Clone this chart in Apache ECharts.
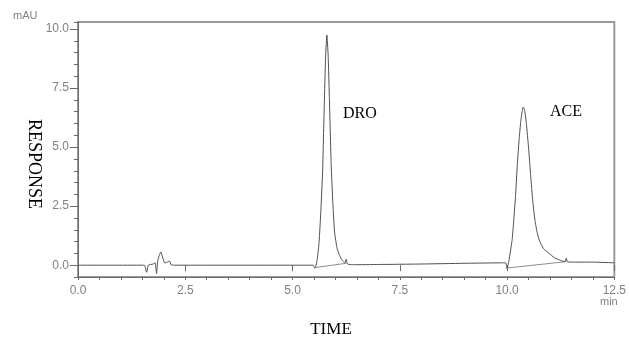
<!DOCTYPE html>
<html>
<head>
<meta charset="utf-8">
<script src="https://cdn.jsdelivr.net/npm/echarts@6/dist/echarts.min.js"></script>
<style>html,body{margin:0;padding:0;background:#fff}#c{width:629px;height:343px}</style>
</head>
<body>
<div id="c"></div>
<script>
// Chromatogram (time in min, response in mAU)
var time = [0, 0.8, 1.5, 1.55, 1.6, 1.64, 1.75, 1.8, 1.83, 1.86, 1.9, 1.93, 1.97, 2.02, 2.08, 2.13, 2.17, 2.25, 3.0, 4.0, 5.0,
  5.48, 5.52, 5.55, 5.58, 5.62, 5.66, 5.7, 5.74, 5.77, 5.8, 5.83, 5.86, 5.9, 5.94, 5.98, 6.04, 6.1, 6.16, 6.22, 6.25, 6.28, 6.4,
  7.0, 8.0, 9.0, 9.9, 9.97, 10.0, 10.04, 10.08, 10.12, 10.16, 10.2, 10.24, 10.28, 10.32, 10.36, 10.38, 10.41, 10.45, 10.5,
  10.55, 10.6, 10.65, 10.7, 10.75, 10.85, 10.98, 11.1, 11.25, 11.35, 11.38, 11.41, 11.6, 12.0, 12.5];
var response = [0.0, 0.0, 0.0, 0.0, -0.3, 0.0, 0.05, 0.1, -0.35, 0.2, 0.45, 0.56, 0.35, 0.1, 0.12, 0.18, 0.02, 0.0, 0.0, 0.0, 0.0,
  0.0, -0.13, 0.0, 0.3, 1.0, 2.3, 3.9, 6.8, 8.8, 9.75, 8.9, 7.0, 4.3, 2.6, 1.4, 0.7, 0.4, 0.2, 0.1, 0.25, 0.05, 0.02,
  0.03, 0.05, 0.08, 0.1, 0.1, -0.15, 0.15, 0.6, 1.1, 2.0, 3.0, 4.3, 5.3, 6.1, 6.6, 6.7, 6.55, 6.0, 5.0,
  3.8, 2.7, 1.9, 1.4, 1.06, 0.7, 0.5, 0.32, 0.2, 0.15, 0.3, 0.14, 0.13, 0.13, 0.1];
// integration baselines under the two peaks
var droBaseTime = [5.52, 6.25];
var droBaseResp = [-0.1, 0.08];
var aceBaseTime = [10.0, 11.38];
var aceBaseResp = [-0.12, 0.15];
// axis ticks
var yTickLabels = [0, 2.5, 5, 7.5, 10];
var xTickLabels = [0, 2.5, 5, 7.5, 10, 12.5];

function pairs(a, b) { return a.map(function (v, i) { return [v, b[i]]; }); }
var baseData = pairs(droBaseTime, droBaseResp).concat([[null, null]]).concat(pairs(aceBaseTime, aceBaseResp));

var labelStyle = { color: '#808080', fontFamily: 'Liberation Sans', fontSize: 12 };
var chart = echarts.init(document.getElementById('c'), null, { renderer: 'canvas' });
chart.setOption({
  animation: false,
  backgroundColor: '#fff',
  grid: { left: 78, right: 9, top: 22, bottom: 66, show: true, borderColor: '#9a9a9a', borderWidth: 2, backgroundColor: 'transparent' },
  xAxis: [{
    type: 'value', min: 0, max: 12.5, interval: 0.5, position: 'bottom',
    axisLine: { onZero: false, lineStyle: { color: '#6a6a6a', width: 1 } },
    axisTick: { show: true, length: 3, lineStyle: { color: '#6a6a6a' } },
    axisLabel: Object.assign({ margin: 8, customValues: xTickLabels, formatter: function (v) { return v.toFixed(1); } }, labelStyle),
    splitLine: { show: false }
  }, {
    type: 'value', min: 0, max: 12.5, position: 'bottom',
    axisLine: { show: false },
    axisTick: { show: true, length: 6, customValues: xTickLabels, lineStyle: { color: '#6a6a6a' } },
    axisLabel: { show: false }, splitLine: { show: false }
  }],
  yAxis: [{
    type: 'value', min: -0.5, max: 10.3, interval: 0.5, position: 'left',
    axisLine: { show: true, onZero: false, lineStyle: { color: '#6a6a6a', width: 1 } },
    axisTick: { show: true, length: 4, lineStyle: { color: '#6a6a6a' } },
    axisLabel: Object.assign({ margin: 9, customValues: yTickLabels, formatter: function (v) { return v.toFixed(1); } }, labelStyle),
    splitLine: { show: false }
  }, {
    type: 'value', min: -0.5, max: 10.3, position: 'left',
    axisLine: { show: false },
    axisTick: { show: true, length: 8, customValues: yTickLabels, lineStyle: { color: '#6a6a6a' } },
    axisLabel: { show: false }, splitLine: { show: false }
  }],
  series: [{
    type: 'line', data: pairs(time, response), xAxisIndex: 0, yAxisIndex: 0,
    showSymbol: false, smooth: 0.15, lineStyle: { color: '#505050', width: 1 }
  }, {
    type: 'line', data: baseData, xAxisIndex: 0, yAxisIndex: 0, connectNulls: false,
    showSymbol: false, lineStyle: { color: '#707070', width: 0.8 }
  }],
  graphic: [
    { type: 'text', left: 13, top: 10, style: { text: 'mAU', fill: '#808080', font: '11px "Liberation Sans"' } },
    { type: 'text', left: 600, top: 296, style: { text: 'min', fill: '#808080', font: '11px "Liberation Sans"' } },
    { type: 'text', x: 343, y: 114, style: { text: 'DRO', fill: '#000', font: '16px "Liberation Serif"', verticalAlign: 'middle' } },
    { type: 'text', x: 550, y: 112, style: { text: 'ACE', fill: '#000', font: '16px "Liberation Serif"', verticalAlign: 'middle' } },
    { type: 'text', x: 331, y: 330, style: { text: 'TIME', fill: '#000', font: '17px "Liberation Serif"', align: 'center', verticalAlign: 'middle' } },
    { type: 'text', x: 34, y: 164, rotation: -Math.PI / 2, style: { text: 'RESPONSE', fill: '#000', font: '18px "Liberation Serif"', align: 'center', verticalAlign: 'middle' } }
  ]
});
</script>
</body>
</html>
